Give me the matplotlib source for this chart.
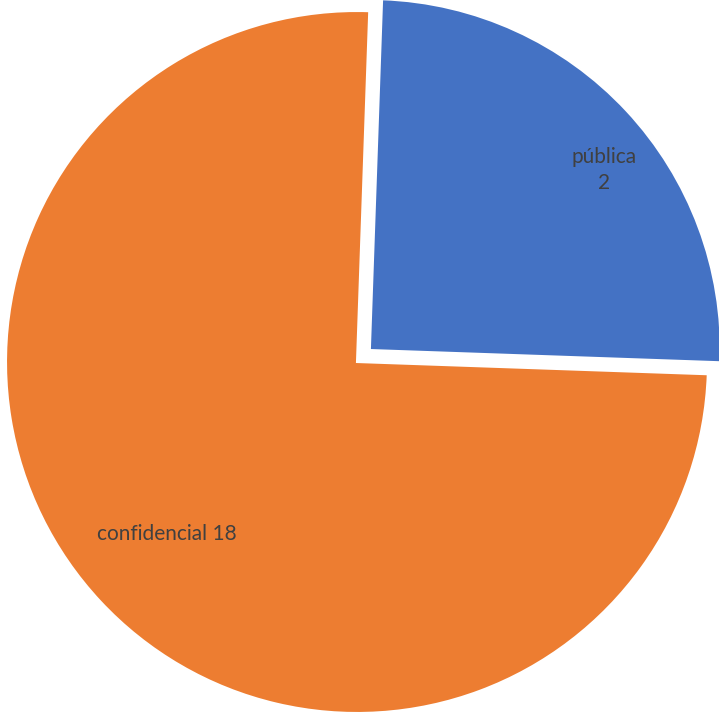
import matplotlib.pyplot as plt

# Datos
categorias = ['pública', 'confidencial']
valores = [2, 18]
# proporción de cada porción tal como aparece en la figura (%)
proporciones = [25, 75]
colores = ['#4472C4', '#ED7D31']

fig = plt.figure(figsize=(7.19, 7.15), dpi=100, facecolor='white')
ax = fig.add_axes([0, 0, 1, 1])

escala = 351.0  # píxeles por unidad de radio
cx, cy = 357.0, 362.0

wedges, _ = ax.pie(proporciones, colors=colores, startangle=88, counterclock=False,
                   explode=[0.05, 0], radius=1, center=(0, 0),
                   wedgeprops=dict(edgecolor='white', linewidth=1.5))

ax.set_xlim(-cx / escala, (719 - cx) / escala)
ax.set_ylim(-(715 - cy) / escala, cy / escala)
ax.set_aspect('equal')
ax.axis('off')

# Etiquetas de datos
estilo = dict(ha='center', va='center', fontsize=15, color='#404040', family='Lato')
ax.text((604 - cx) / escala, (cy - 170) / escala,
        f'{categorias[0]}\n{valores[0]}', linespacing=1.35, **estilo)
ax.text((167 - cx) / escala, (cy - 534) / escala,
        f'{categorias[1]} {valores[1]}', **estilo)

fig.savefig('out.png', dpi=100, facecolor='white')
